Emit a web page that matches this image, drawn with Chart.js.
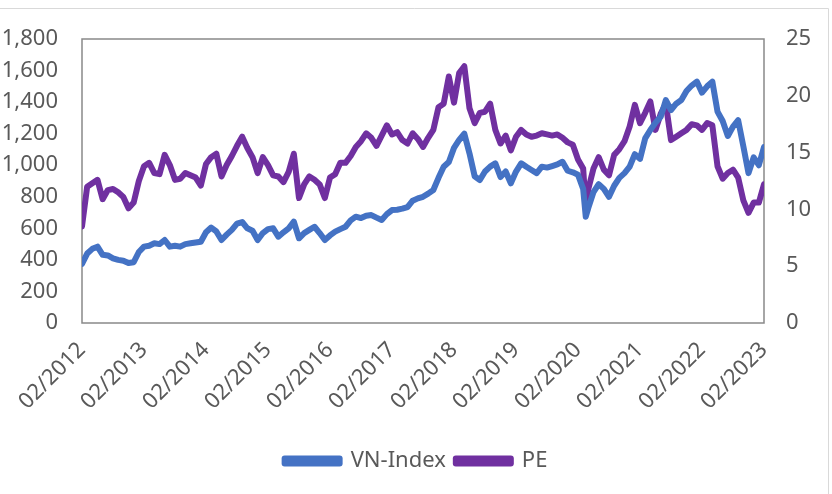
<!DOCTYPE html>
<html>
<head>
<meta charset="utf-8">
<script src="https://cdn.jsdelivr.net/npm/chart.js@4.4.1/dist/chart.umd.min.js"></script>
<style>
  html, body { margin: 0; padding: 0; background: #fff; }
  #wrap { width: 832px; height: 494px; position: relative; }
</style>
</head>
<body>
<div id="wrap"><canvas id="chart" width="832" height="494"></canvas></div>
<script>
// month index since 02/2012 (one extra point for the 2020 drop)
const months = [
  0, 1, 2, 3, 4, 5, 6, 7, 8, 9, 10, 11,
  12, 13, 14, 15, 16, 17, 18, 19, 20, 21, 22, 23,
  24, 25, 26, 27, 28, 29, 30, 31, 32, 33, 34, 35,
  36, 37, 38, 39, 40, 41, 42, 43, 44, 45, 46, 47,
  48, 49, 50, 51, 52, 53, 54, 55, 56, 57, 58, 59,
  60, 61, 62, 63, 64, 65, 66, 67, 68, 69, 70, 71,
  72, 73, 74, 75, 76, 77, 78, 79, 80, 81, 82, 83,
  84, 85, 86, 87, 88, 89, 90, 91, 92, 93, 94, 95,
  96, 97, 97.5, 98, 99, 100, 101, 102, 103, 104, 105, 106, 107,
  108, 109, 110, 111, 112, 113, 114, 115, 116, 117, 118, 119,
  120, 121, 122, 123, 124, 125, 126, 127, 128, 129, 130, 131,
  132
];

const vnIndex = [
  375, 440, 470, 484, 432, 428, 410, 400, 395, 380, 385, 450,
  484, 490, 505, 500, 526, 484, 490, 484, 500, 505, 510, 515,
  575, 605, 580, 526, 560, 590, 630, 640, 600, 585, 526, 570,
  595, 600, 547, 575, 600, 642, 537, 570, 590, 610, 570, 526,
  555, 579, 595, 610, 650, 674, 665, 680, 684, 668, 653, 690,
  716, 718, 725, 735, 775, 790, 800, 820, 843, 920, 990, 1020,
  1110, 1160, 1200, 1075, 930, 906, 960, 991, 1012, 925, 960, 885,
  960, 1012, 990, 970, 950, 991, 985, 995, 1005, 1022, 965, 955,
  940, 850, 674, 730, 830, 880, 850, 800, 870, 920, 950, 991, 1070,
  1040, 1170, 1223, 1270, 1307, 1413, 1350, 1390, 1413, 1470, 1505, 1530,
  1460, 1500, 1530, 1340, 1280, 1185, 1245, 1285, 1120, 950, 1050, 1000,
  1115
];

const peRatio = [
  8.5, 12.0, 12.3, 12.6, 10.9, 11.7, 11.8, 11.5, 11.1, 10.1, 10.6, 12.5,
  13.8, 14.1, 13.2, 13.1, 14.8, 13.9, 12.6, 12.7, 13.2, 13.0, 12.8, 12.1,
  14.0, 14.6, 14.9, 12.9, 13.9, 14.7, 15.6, 16.4, 15.4, 14.6, 13.2, 14.6,
  13.9, 13.0, 12.9, 12.4, 13.3, 14.9, 11.0, 12.2, 12.9, 12.6, 12.2, 11.0,
  12.8, 13.1, 14.1, 14.1, 14.7, 15.5, 16.0, 16.7, 16.3, 15.6, 16.5, 17.4,
  16.6, 16.8, 16.1, 15.8, 16.7, 16.2, 15.5, 16.3, 17.0, 19.0, 19.3, 21.7,
  19.4, 22.0, 22.6, 18.9, 17.6, 18.5, 18.6, 19.3, 17.0, 15.8, 16.5, 15.2,
  16.4, 17.0, 16.6, 16.4, 16.5, 16.7, 16.6, 16.5, 16.6, 16.3, 15.9, 15.7,
  14.4, 13.6, 10.2, 11.8, 13.6, 14.6, 13.5, 13.0, 14.8, 15.3, 16.0, 17.3, 19.2,
  17.6, 18.5, 19.5, 17.0, 18.4, 19.3, 16.1, 16.4, 16.7, 17.0, 17.5, 17.4,
  17.0, 17.6, 17.4, 13.8, 12.7, 13.2, 13.5, 12.8, 10.8, 9.7, 10.6, 10.6,
  12.2
];

const leftTicks = { min: 0, max: 1800, step: 200 };
const rightTicks = { min: 0, max: 25, step: 5 };
const firstYear = 2012;

const FONT = "'Noto Sans', sans-serif";
const TEXT = '#595959';

function toPoints(values) {
  return values.map((v, i) => ({ x: months[i], y: v }));
}

// khung vùng vẽ + viền ngoài nhạt
const framePlugin = {
  id: 'frame',
  beforeDatasetsDraw(chart) {
    const a = chart.chartArea;
    const ctx = chart.ctx;
    ctx.save();
    ctx.strokeStyle = '#d9d9d9';
    ctx.lineWidth = 1;
    ctx.beginPath();
    ctx.moveTo(0, 8.5);
    ctx.lineTo(828.5, 8.5);
    ctx.lineTo(828.5, 494);
    ctx.stroke();
    ctx.strokeStyle = '#898989';
    ctx.lineWidth = 1.5;
    ctx.strokeRect(a.left, a.top, a.right - a.left, a.bottom - a.top);
    ctx.restore();
  }
};

new Chart(document.getElementById('chart'), {
  type: 'line',
  data: {
    datasets: [
      {
        label: 'VN-Index',
        data: toPoints(vnIndex),
        yAxisID: 'y',
        borderColor: '#4472C4',
        backgroundColor: '#4472C4',
        borderWidth: 6,
        borderCapStyle: 'round',
        borderJoinStyle: 'round',
        pointRadius: 0,
        tension: 0
      },
      {
        label: 'PE',
        data: toPoints(peRatio),
        yAxisID: 'y1',
        borderColor: '#7030A0',
        backgroundColor: '#7030A0',
        borderWidth: 6,
        borderCapStyle: 'round',
        borderJoinStyle: 'round',
        pointRadius: 0,
        tension: 0
      }
    ]
  },
  options: {
    responsive: false,
    animation: false,
    layout: { padding: { top: 39, left: 0, right: 0, bottom: 12 } },
    plugins: {
      tooltip: { enabled: false },
      legend: {
        position: 'bottom',
        labels: {
          color: TEXT,
          font: { family: FONT, size: 22 },
          boxWidth: 55,
          boxHeight: 5,
          padding: 10
        }
      }
    },
    scales: {
      x: {
        type: 'linear',
        min: 0,
        max: 132,
        grid: { display: false, drawTicks: false },
        border: { display: false },
        afterFit: s => { s.height = 117; },
        ticks: {
          stepSize: 12,
          minRotation: 45,
          maxRotation: 45,
          padding: 14,
          color: TEXT,
          font: { family: FONT, size: 22 },
          callback: v => '02/' + (firstYear + v / 12)
        }
      },
      y: {
        position: 'left',
        min: leftTicks.min,
        max: leftTicks.max,
        grid: { display: false, drawTicks: false },
        border: { display: false },
        afterFit: s => { s.width = 82; },
        ticks: {
          stepSize: leftTicks.step,
          padding: 24,
          color: TEXT,
          font: { family: FONT, size: 22 },
          callback: v => v.toLocaleString('en-US')
        }
      },
      y1: {
        position: 'right',
        min: rightTicks.min,
        max: rightTicks.max,
        grid: { display: false, drawTicks: false },
        border: { display: false },
        afterFit: s => { s.width = 68; },
        ticks: {
          stepSize: rightTicks.step,
          padding: 22,
          color: TEXT,
          font: { family: FONT, size: 22 }
        }
      }
    }
  },
  plugins: [framePlugin]
});
</script>
</body>
</html>
